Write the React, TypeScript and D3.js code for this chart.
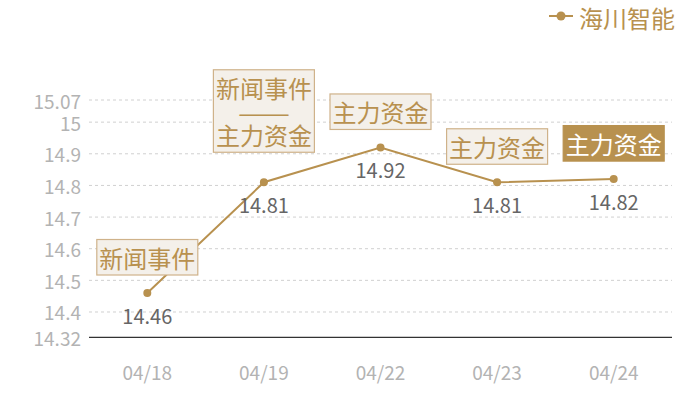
import { useEffect, useRef } from 'react'
import * as d3 from 'd3'

const dates = ['04/18', '04/19', '04/22', '04/23', '04/24']
const prices = [14.46, 14.81, 14.92, 14.81, 14.82]
const events = [['新闻事件'], ['新闻事件', '主力资金'], ['主力资金'], ['主力资金'], ['主力资金']]
const yTicks = [14.32, 14.4, 14.5, 14.6, 14.7, 14.8, 14.9, 15, 15.07]
const seriesName = '海川智能'

const GOLD = '#b8914f'
const FONT = '"Noto Sans CJK SC", "Noto Sans", sans-serif'

export default function App() {
  const svgRef = useRef<SVGSVGElement>(null)

  useEffect(() => {
    if (!svgRef.current) return
    const width = 700
    const height = 400
    const margin = { top: 100, right: 28, bottom: 62.7, left: 89 }

    d3.select(svgRef.current).selectAll('*').remove()
    const svg = d3.select(svgRef.current)
      .attr('width', width)
      .attr('height', height)

    svg.append('rect').attr('width', width).attr('height', height).attr('fill', '#fff')

    const x = d3.scaleBand()
      .domain(dates)
      .range([margin.left, width - margin.right])

    const y = d3.scaleLinear()
      .domain([14.32, 15.07])
      .range([height - margin.bottom, margin.top])

    const cx = (d: string) => (x(d) || 0) + x.bandwidth() / 2

    // grid lines
    svg.append('g')
      .selectAll('line')
      .data(yTicks.filter(t => t !== 14.32))
      .join('line')
      .attr('x1', margin.left)
      .attr('x2', width - margin.right)
      .attr('y1', d => y(d))
      .attr('y2', d => y(d))
      .attr('stroke', '#d0d0d0')
      .attr('stroke-dasharray', '3,3')

    // y labels
    svg.append('g')
      .selectAll('text')
      .data(yTicks)
      .join('text')
      .attr('x', margin.left - 8)
      .attr('y', d => y(d))
      .attr('text-anchor', 'end')
      .attr('dominant-baseline', 'central')
      .attr('fill', '#b3b3b3')
      .attr('font-size', '19px')
      .attr('font-family', FONT)
      .text(d => String(d))

    // x axis line
    svg.append('line')
      .attr('x1', margin.left)
      .attr('x2', width - margin.right)
      .attr('y1', y(14.32))
      .attr('y2', y(14.32))
      .attr('stroke', '#333')
      .attr('stroke-width', 1.2)

    // x labels
    svg.append('g')
      .selectAll('text')
      .data(dates)
      .join('text')
      .attr('x', d => cx(d))
      .attr('y', 371.7)
      .attr('text-anchor', 'middle')
      .attr('dominant-baseline', 'central')
      .attr('fill', '#b3b3b3')
      .attr('font-size', '19px')
      .attr('font-family', FONT)
      .text(d => d)

    const data = dates.map((d, i) => ({ date: d, value: prices[i], event: events[i] }))

    // line
    const line = d3.line<{ date: string; value: number }>()
      .x(d => cx(d.date))
      .y(d => y(d.value))
    svg.append('path')
      .datum(data)
      .attr('d', line)
      .attr('fill', 'none')
      .attr('stroke', GOLD)
      .attr('stroke-width', 2)

    svg.append('g')
      .selectAll('circle')
      .data(data)
      .join('circle')
      .attr('cx', d => cx(d.date))
      .attr('cy', d => y(d.value))
      .attr('r', 4)
      .attr('fill', GOLD)

    // value labels
    svg.append('g')
      .selectAll('text')
      .data(data)
      .join('text')
      .attr('x', d => cx(d.date))
      .attr('y', d => y(d.value) + 22)
      .attr('text-anchor', 'middle')
      .attr('dominant-baseline', 'central')
      .attr('fill', '#666')
      .attr('font-size', '20px')
      .attr('font-family', FONT)
      .text(d => d.value.toFixed(2))

    // event boxes
    const fs = 24
    const lh = 23.5
    const padY = 6
    const boxW = 101
    data.forEach((d, i) => {
      const lines = d.event.length > 1 ? [d.event[0], '——', d.event[1]] : d.event
      const last = i === data.length - 1
      const boxH = lines.length * lh + padY * 2
      const gap = lines.length > 1 ? 30 : 18
      const bx = cx(d.date) - boxW / 2
      const by = y(d.value) - gap - boxH
      const g = svg.append('g')
      g.append('rect')
        .attr('x', bx)
        .attr('y', by)
        .attr('width', boxW)
        .attr('height', boxH)
        .attr('fill', last ? GOLD : '#f4f0ea')
        .attr('stroke', last ? GOLD : '#cfb28a')
        .attr('stroke-width', 1.2)
      lines.forEach((t, j) => {
        const txt = g.append('text')
          .attr('x', cx(d.date))
          .attr('y', by + padY + lh * j + lh / 2)
          .attr('text-anchor', 'middle')
          .attr('dominant-baseline', 'central')
          .attr('fill', last ? '#fff' : GOLD)
          .attr('font-size', `${fs}px`)
          .attr('font-family', FONT)
          .text(t)
        if (t === '——') {
          txt.attr('textLength', 52).attr('lengthAdjust', 'spacingAndGlyphs')
        }
      })
    })

    // legend
    const lg = svg.append('g')
    lg.append('line')
      .attr('x1', 549).attr('x2', 573)
      .attr('y1', 16).attr('y2', 16)
      .attr('stroke', GOLD).attr('stroke-width', 2)
    lg.append('circle').attr('cx', 561).attr('cy', 16).attr('r', 4.5).attr('fill', GOLD)
    lg.append('text')
      .attr('x', 579)
      .attr('y', 17)
      .attr('dominant-baseline', 'central')
      .attr('fill', GOLD)
      .attr('font-size', '24px')
      .attr('font-family', FONT)
      .text(seriesName)
  }, [])

  return (
    <svg ref={svgRef} style={{ position: 'absolute', left: 0, top: 0 }}></svg>
  )
}
